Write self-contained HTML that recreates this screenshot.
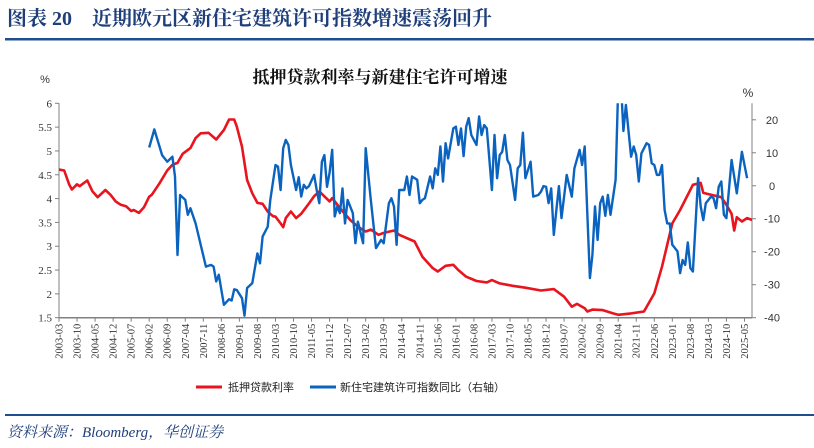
<!DOCTYPE html>
<html><head><meta charset="utf-8"><style>
html,body{margin:0;padding:0;background:#fff;width:814px;height:448px;overflow:hidden}
svg{display:block}
.ser{font-family:"Liberation Serif","Noto Serif CJK SC",serif}
.san{font-family:"Liberation Sans","Noto Sans CJK SC",sans-serif}
</style></head><body>
<svg id="chart" width="814" height="448" viewBox="0 0 814 448">
<text x="7" y="25" class="ser" font-size="20" font-weight="bold" fill="#1f3f7a">图表 20　近期欧元区新住宅建筑许可指数增速震荡回升</text>
<rect x="5" y="38" width="809" height="2.5" fill="#1f4e8c"/>
<text x="380" y="83" text-anchor="middle" class="ser" font-size="17" font-weight="bold" fill="#111">抵押贷款利率与新建住宅许可增速</text>
<text x="45" y="83" text-anchor="middle" class="san" font-size="11" fill="#333">%</text>
<text x="748" y="97" text-anchor="middle" class="san" font-size="12" fill="#333">%</text>
<defs><clipPath id="plotclip"><rect x="59" y="103.3" width="693" height="214.4"/></clipPath></defs>
<g id="axes"></g>
<g id="series" clip-path="url(#plotclip)"></g>
<g>
<line x1="196" y1="387" x2="222" y2="387" stroke="#e8141e" stroke-width="3"/>
<text x="228" y="391" class="san" font-size="11" fill="#222">抵押贷款利率</text>
<line x1="310" y1="387" x2="336" y2="387" stroke="#0b63c0" stroke-width="3"/>
<text x="340" y="391" class="san" font-size="11" fill="#222">新住宅建筑许可指数同比（右轴）</text>
</g>
<rect x="5" y="414" width="809" height="2" fill="#1f4e8c"/>
<text x="7" y="437" class="ser" font-size="15" font-style="italic" fill="#1f3f7a">资料来源：Bloomberg，华创证券</text>
</svg>
<script>
// months since 2003-03
const rateMonths=[0,2,4,5,7,8,11,13,15,18,20,22,24,26,28,29,31,33,35,36,39,42,44,46,48,51,53,55,58,61,64,66,68,69,71,73,75,77,79,81,83,84,86,87,88,90,92,94,97,99,101,105,106,109,113,116,119,121,124,126,130,132,138,141,145,147,150,153,155,158,162,166,168,171,176,181,187,192,196,199,201,204,205,207,211,215,217,222,227,231,234,238,241,244,246,249,250,253,257,259,261,262,263,265,267,269];
const rateValues=[4.61,4.59,4.29,4.19,4.30,4.26,4.38,4.15,4.03,4.18,4.08,3.94,3.87,3.84,3.74,3.76,3.70,3.82,4.04,4.08,4.32,4.59,4.71,4.75,4.94,5.06,5.27,5.37,5.38,5.24,5.44,5.66,5.66,5.51,5.09,4.39,4.11,3.91,3.89,3.73,3.63,3.62,3.48,3.40,3.59,3.73,3.59,3.68,3.90,4.05,4.15,3.94,4.01,3.80,3.55,3.41,3.31,3.35,3.24,3.28,3.33,3.24,3.10,2.78,2.54,2.47,2.59,2.61,2.50,2.36,2.27,2.24,2.29,2.22,2.17,2.13,2.07,2.10,1.94,1.73,1.79,1.70,1.63,1.67,1.66,1.59,1.56,1.59,1.63,2.01,2.57,3.48,3.76,4.08,4.29,4.33,4.12,4.08,4.03,3.87,3.68,3.33,3.61,3.52,3.59,3.55];
const permitMonths=[35,37,40,42,44,45,46,47,49,50,51,53,57,59,60,61,62,64,66,67,68,69,71,72,73,75,77,78,79,81,82,84,85,86,87,88,89,90,92,93,94,95,96,97,99,100,101,102,103,104,105,106,107,108,109,110,111,112,114,115,116,118,119,121,123,125,126,128,129,130,131,132,134,135,136,137,139,140,141,142,144,145,146,147,148,149,150,151,153,154,155,156,157,158,159,160,162,163,164,165,166,168,169,170,171,172,173,174,175,177,178,179,180,181,183,184,186,187,188,189,190,191,192,193,194,195,197,199,200,202,203,204,205,206,207,208,209,210,211,212,213,214,216,217,218,219,220,222,223,224,225,226,228,229,230,231,232,233,234,235,236,237,238,240,241,242,243,244,245,246,248,249,250,251,253,254,255,256,257,258,259,261,263,265,267];
const permitValues=[11.6,17.1,9.3,7.3,8.8,2.8,-21.0,-2.8,-4.3,-8.8,-6.8,-11.4,-24.5,-24.0,-24.5,-29.0,-27.0,-36.1,-34.4,-34.8,-31.4,-31.6,-34.1,-39.4,-31.0,-29.5,-20.5,-23.5,-15.4,-12.4,-4.3,6.3,5.8,-1.3,11.4,13.9,12.4,6.3,-1.3,2.6,-3.3,0.3,-0.8,-0.1,3.3,-1.3,-5.3,7.3,9.3,-0.3,4.0,10.9,-9.3,-6.3,-8.3,-0.8,-11.4,-4.3,-8.3,-17.4,-10.9,-17.4,11.4,-4.3,-18.9,-16.4,-17.4,-5.3,-3.8,-6.3,-17.9,-1.3,-1.3,2.8,-2.8,2.8,1.8,-5.3,-4.3,-3.8,2.8,-0.8,5.3,3.3,11.9,1.3,12.9,8.3,17.4,17.9,12.4,17.4,9.0,17.9,20.5,15.4,12.4,21.0,15.4,18.4,17.4,-1.3,15.4,2.3,9.3,10.3,15.4,7.8,6.3,-4.3,5.3,6.3,16.1,2.3,7.3,-3.3,-2.8,-1.8,-0.1,-0.3,-5.3,-0.8,-14.9,-7.3,-0.1,-9.8,3.3,-3.3,5.3,10.9,6.3,11.9,-8.3,-28.0,-21.0,-6.3,-16.4,-5.3,-3.3,-9.1,-2.8,-8.8,1.8,30,32,16.6,24.5,8.8,11.9,9.3,1.3,9.8,12.9,12.4,6.8,6.3,3.3,3.3,6.3,-7.3,-11.4,-11.4,-17.9,-19.9,-26.5,-22.5,-24.0,-17.2,-25.0,-26.0,2.3,-6.3,-10.4,-5.3,-3.3,-3.8,-6.8,-0.3,1.3,-8.8,-9.8,7.8,-2.3,10.3,2.3];
const leftTicks=[1.5,2,2.5,3,3.5,4,4.5,5,5.5,6];
const rightTicks=[-40,-30,-20,-10,0,10,20];
const xTickLabels=[];
for(let i=0;i<39;i++){const m=2+i*7;const y=2003+Math.floor(m/12);const mo=m%12+1;xTickLabels.push(y+'-'+String(mo).padStart(2,'0'));}

const X0=59,X1=752,YT=103.3,YB=317.7;
const xScale=m=>X0+m*2.577;
const yL=v=>YB-(v-1.5)/(6-1.5)*(YB-YT);
const yR=v=>YB-(v+40)/(25+40)*(YB-YT);
const NS='http://www.w3.org/2000/svg';
const axes=document.getElementById('axes'),series=document.getElementById('series');
function mk(tag,attrs,parent){const e=document.createElementNS(NS,tag);for(const k in attrs)e.setAttribute(k,attrs[k]);parent.appendChild(e);return e;}

let e=mk('line',{x1:X0,y1:YT,x2:X0,y2:YB,stroke:'#808080','stroke-width':1},axes);


e=mk('line',{x1:X1,y1:YT,x2:X1,y2:YB,stroke:'#808080','stroke-width':1},axes);


e=mk('line',{x1:X0,y1:YB,x2:X1,y2:YB,stroke:'#808080','stroke-width':1.5},axes);



leftTicks.forEach(v=>{const y=yL(v);
 let t=mk('line',{x1:X0-4,y1:y,x2:X0,y2:y,stroke:'#808080'},axes);
 
 
 let l=mk('text',{x:X0-7,y:y+4,'text-anchor':'end','font-size':11,fill:'#333',class:'ser'},axes);
 l.textContent=String(v);
 
 });
rightTicks.forEach(v=>{const y=yR(v);
 let t=mk('line',{x1:X1,y1:y,x2:X1+4,y2:y,stroke:'#808080'},axes);
 
 
 let l=mk('text',{x:X1+20,y:y+4,'text-anchor':'middle','font-size':11,fill:'#333',class:'san'},axes);
 l.textContent=String(v);
 
 });
xTickLabels.forEach((lab,i)=>{const x=xScale(i*7);
 let t=mk('line',{x1:x,y1:YB,x2:x,y2:YB+4,stroke:'#808080'},axes);
 
 
 let l=mk('text',{x:0,y:0,'text-anchor':'end','font-size':10.5,fill:'#333',class:'ser',transform:`translate(${x+3.5},${YB+6}) rotate(-90)`},axes);
 l.textContent=lab;
 
 });

const rateD=rateMonths.map((m,i)=>(i?'L':'M')+xScale(m).toFixed(1)+','+yL(rateValues[i]).toFixed(1)).join('');
let p=mk('path',{d:rateD,fill:'none',stroke:'#e8141e','stroke-width':2.6,'stroke-linejoin':'round'},series);


const permD=permitMonths.map((m,i)=>(i?'L':'M')+xScale(m).toFixed(1)+','+yR(permitValues[i]).toFixed(1)).join('');
p=mk('path',{d:permD,fill:'none',stroke:'#0b63c0','stroke-width':2.4,'stroke-linejoin':'round'},series);


</script>
</body></html>
